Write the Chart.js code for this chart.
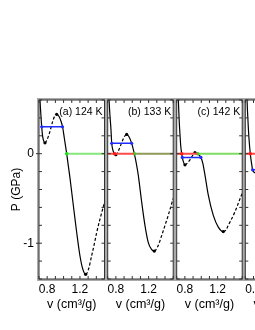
<!DOCTYPE html>
<html>
<head>
<meta charset="utf-8">
<script src="https://cdn.jsdelivr.net/npm/chart.js@4.4.1/dist/chart.umd.min.js"></script>
<style>
body { margin: 0; background: #fff; }
#wrap { position: relative; width: 255px; height: 330px; overflow: hidden; background: #fff; }
#wrap canvas { position: absolute; left: 0; top: 0; }
</style>
</head>
<body>
<div id="wrap">
<canvas id="pa" width="340" height="330"></canvas>
<canvas id="pb" width="340" height="330"></canvas>
<canvas id="pc" width="340" height="330"></canvas>
<canvas id="pd" width="340" height="330"></canvas>
</div>
<script>
// panel titles (the 4th panel's title is outside the picture)
const panelNames = ["(a) 124 K", "(b) 133 K", "(c) 142 K", ""];
const xTickLabels = [0.8, 1.2];
const yTickLabels = [0, -1];

// isotherms: v (cm3/g) against P (GPa)
const vA = [0.704, 0.712, 0.722, 0.733, 0.745, 0.758, 0.773, 0.80, 0.834, 0.87, 0.895, 0.916, 0.945, 0.97, 0.99, 1.01, 1.038, 1.079, 1.119, 1.16, 1.2, 1.235, 1.27, 1.305, 1.343, 1.375, 1.405, 1.445, 1.485, 1.5];
const pA = [0.85, 0.61, 0.45, 0.30, 0.19, 0.14, 0.121, 0.16, 0.25, 0.37, 0.425, 0.44, 0.415, 0.36, 0.29, 0.17, 0, -0.275, -0.576, -0.878, -1.14, -1.29, -1.348, -1.29, -1.14, -1.01, -0.878, -0.73, -0.595, -0.55];

const vB = [0.706, 0.716, 0.728, 0.740, 0.749, 0.762, 0.775, 0.785, 0.80, 0.83, 0.865, 0.90, 0.932, 0.96, 0.993, 1.025, 1.05, 1.073, 1.115, 1.155, 1.195, 1.235, 1.269, 1.31, 1.359, 1.40, 1.439, 1.5];
const pB = [0.85, 0.61, 0.42, 0.27, 0.116, 0.045, 0.01, 0, -0.012, 0.03, 0.11, 0.185, 0.215, 0.19, 0.116, 0, -0.11, -0.237, -0.54, -0.80, -0.99, -1.07, -1.088, -1.04, -0.915, -0.80, -0.69, -0.50];

const vC = [0.712, 0.720, 0.730, 0.740, 0.750, 0.761, 0.768, 0.785, 0.801, 0.83, 0.862, 0.895, 0.923, 0.94, 0.956, 0.976, 0.996, 1.02, 1.045, 1.086, 1.147, 1.208, 1.269, 1.30, 1.33, 1.37, 1.411, 1.45, 1.5];
const pC = [0.9, 0.61, 0.38, 0.215, 0.08, 0, -0.042, -0.10, -0.124, -0.105, -0.068, -0.02, 0.011, 0.007, 0, -0.018, -0.042, -0.11, -0.237, -0.463, -0.689, -0.82, -0.87, -0.855, -0.80, -0.73, -0.65, -0.56, -0.44];

const vD = [0.714, 0.721, 0.732, 0.745, 0.761, 0.775, 0.789, 0.805, 0.822, 0.85];
const pD = [0.85, 0.61, 0.38, 0.17, 0, -0.10, -0.18, -0.205, -0.215, -0.225];

// blue tie lines, P = 0 crossings
const tieP = [0.30, 0.116, -0.042, -0.18];
const tieV1 = [0.733, 0.749, 0.768, 0.789];
const tieV2 = [0.987, 0.993, 0.996, 1.10];
const redDotV = [null, 0.785, 0.761, 0.761];
const greenDotV = [1.038, 1.025, 0.956, null];
const greenColors = ["#86e67a", "#8e9a58", "#7fdc62", "#7fdc62"];

// layout
const panelLeft = [39, 107.7, 176.7, 245.3];
const panelWidth = 65.5;
const canvasW = 340;
const font = '"Liberation Sans", Arial, sans-serif';

Chart.defaults.color = "#000";
Chart.defaults.font.family = font;

const makeFrame = (name, first) => ({
    id: "frame",
    afterDraw(chart) {
        const {ctx, chartArea: a, scales} = chart;
        const x = scales.x, y = scales.y;
        ctx.save();
        ctx.strokeStyle = "#aaaaaa";
        ctx.lineWidth = 2;
        ctx.strokeRect(a.left - 1, a.top - 1, a.width + 2, a.height + 2);
        ctx.strokeStyle = "#333";
        ctx.lineWidth = 1;
        ctx.strokeRect(a.left, a.top, a.width, a.height);
        ctx.beginPath();
        x.ticks.forEach(t => {
            const px = x.getPixelForValue(t.value);
            ctx.moveTo(px, a.bottom); ctx.lineTo(px, a.bottom - 3);
            ctx.moveTo(px, a.top); ctx.lineTo(px, a.top + 3);
        });
        y.ticks.forEach(t => {
            const py = y.getPixelForValue(t.value);
            ctx.moveTo(a.left, py); ctx.lineTo(a.left + 3, py);
            ctx.moveTo(a.right, py); ctx.lineTo(a.right - 3, py);
            if (first && yTickLabels.some(v => Math.abs(v - t.value) < 1e-6)) {
                ctx.moveTo(a.left, py); ctx.lineTo(a.left - 3, py);
            }
        });
        ctx.stroke();
        ctx.fillStyle = "#000";
        ctx.font = "10.5px " + font;
        ctx.textAlign = "right";
        ctx.fillText(name, a.right - 2, a.top + 14.5);
        ctx.restore();
    }
});

const extremaOf = p => {
    const out = [];
    for (let i = 1; i < p.length - 1; i++) {
        if ((p[i] < p[i - 1] && p[i] < p[i + 1]) || (p[i] > p[i - 1] && p[i] > p[i + 1])) out.push(i);
    }
    return out;
};

const makePanel = (id, i, v, p) => {
    const first = i === 0;
    const ext = extremaOf(p);
    const dashed = k => ext.length >= 3 && ((k >= ext[0] && k < ext[1]) || k >= ext[2]);
    const datasets = [];

    datasets.push({
        data: [{x: 0.7, y: 0}, {x: redDotV[i] || 0.7, y: 0}, {x: greenDotV[i] || 1.5, y: 0}],
        borderColor: "#ff4a4a", borderWidth: 2, pointRadius: [0, redDotV[i] ? 1.8 : 0, 0],
        pointBackgroundColor: "#ff1a1a", pointBorderWidth: 0, hidden: !redDotV[i]
    });
    if (greenDotV[i]) {
        datasets.push({
            data: [{x: greenDotV[i], y: 0}, {x: 1.5, y: 0}],
            borderColor: greenColors[i], borderWidth: 2, pointRadius: [1.8, 0],
            pointBackgroundColor: "#22dd22", pointBorderWidth: 0
        });
    }
    datasets.push({
        data: [{x: tieV1[i], y: tieP[i]}, {x: tieV2[i], y: tieP[i]}],
        borderColor: "#1f2cff", borderWidth: 1.5, pointRadius: 1.6,
        pointBackgroundColor: "#1f2cff", pointBorderWidth: 0
    });
    datasets.push({
        data: v.map((vv, k) => ({x: vv, y: p[k]})),
        borderColor: "#000", borderWidth: 1.2,
        cubicInterpolationMode: "monotone",
        pointRadius: ctx => ext.includes(ctx.dataIndex) ? 1.6 : 0,
        pointBackgroundColor: "#000", pointBorderWidth: 0,
        segment: { borderDash: ctx => dashed(ctx.p0DataIndex) ? [3, 2] : undefined }
    });

    const L = panelLeft[i];
    new Chart(document.getElementById(id), {
        type: "line",
        data: { datasets },
        options: {
            responsive: false, animation: false, devicePixelRatio: 1,
            layout: { autoPadding: false, padding: { left: first ? 0 : L, right: canvasW - (L + panelWidth), top: 100, bottom: 0 } },
            plugins: { legend: { display: false }, tooltip: { enabled: false } },
            scales: {
                x: {
                    type: "linear", min: 0.7, max: 1.5,
                    grid: { display: false, drawTicks: false }, border: { display: false },
                    ticks: {
                        stepSize: 0.1, autoSkip: false, maxRotation: 0, padding: 3,
                        font: { size: 12 },
                        callback: val => xTickLabels.some(t => Math.abs(t - val) < 1e-6) ? val.toFixed(1) : ""
                    },
                    title: { display: true, text: "v (cm³/g)", font: { size: 12.5 }, padding: { top: 0, bottom: 18 } },
                    afterFit: s => { s.height = 51; }
                },
                y: {
                    type: "linear", min: -1.4, max: 0.6, display: first,
                    grid: { display: false, drawTicks: false }, border: { display: false },
                    ticks: {
                        stepSize: 0.2, autoSkip: false, padding: 5,
                        font: { size: 12 },
                        callback: val => yTickLabels.some(t => Math.abs(t - val) < 1e-6) ? String(Math.round(val)) : ""
                    },
                    title: { display: true, text: "P (GPa)", font: { size: 12 }, padding: { top: 9, bottom: 0 } },
                    afterFit: s => { s.width = first ? 39 : 0; }
                }
            }
        },
        plugins: [makeFrame(panelNames[i], first)]
    });
};

makePanel("pa", 0, vA, pA);
makePanel("pb", 1, vB, pB);
makePanel("pc", 2, vC, pC);
makePanel("pd", 3, vD, pD);
</script>
</body>
</html>
